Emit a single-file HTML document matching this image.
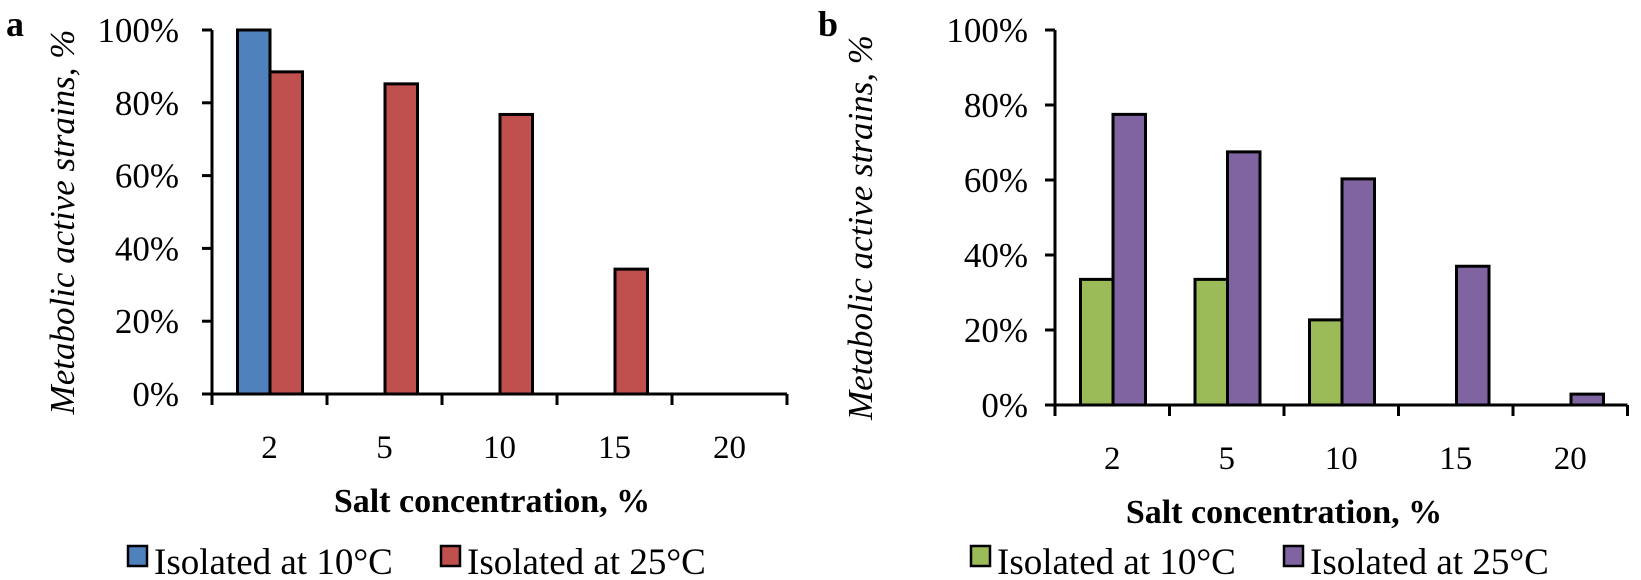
<!DOCTYPE html>
<html><head><meta charset="utf-8"><style>
html,body{margin:0;padding:0;background:#fff;}
svg{display:block;font-family:"Liberation Serif",serif;}
</style></head><body>
<svg id="fig" width="1641" height="580" viewBox="0 0 1641 580">
<g id="ga"></g>
<g id="gb"></g>
</svg>
<script>
const categories = ["2","5","10","15","20"];
const yTicks = [0,20,40,60,80,100];
const aSeries10 = [100,0,0,0,0];
const aSeries25 = [88.5,85.2,76.8,34.3,0];
const bSeries10 = [33.5,33.5,22.7,0,0];
const bSeries25 = [77.5,67.5,60.3,37.0,2.9];
const legendLabels = ["Isolated at 10°C","Isolated at 25°C"];

const NS="http://www.w3.org/2000/svg";
function mk(parent,tag,attrs,text){const e=document.createElementNS(NS,tag);for(const k in attrs)e.setAttribute(k,attrs[k]);if(text!==undefined)e.textContent=text;parent.appendChild(e);return e;}

function panel(g,cfg){
  const {x0,y0,y100,cw,letter,letterX,labelRight,titleX,xTitleX,xTitleY,xLabY,s1,s2,c1,c2,leg} = cfg;
  const yS=v=>y0-(v/100)*(y0-y100);
  const xS=i=>x0+i*cw;
  const bw=32.5, off=25.5;
  categories.forEach((c,i)=>{
    [[s1,c1,0,'bar-10c-'],[s2,c2,1,'bar-25c-']].forEach(([s,col,k,nm])=>{
      const v=s[i]; if(v<=0) return;
      const r=mk(g,'rect',{x:xS(i)+off+k*bw,y:yS(v),width:bw,height:y0-yS(v),fill:col,stroke:'#000','stroke-width':3});
      
      
    });
  });
  const ya=mk(g,'line',{x1:x0,y1:y100,x2:x0,y2:y0+11,stroke:'#000','stroke-width':3});
  
  
  const xa=mk(g,'line',{x1:x0-10,y1:y0,x2:xS(categories.length),y2:y0,stroke:'#000','stroke-width':3});
  
  
  yTicks.forEach(t=>{
    mk(g,'line',{x1:x0-10,y1:yS(t),x2:x0,y2:yS(t),stroke:'#000','stroke-width':3});
    const tl=mk(g,'text',{x:labelRight,y:yS(t)+12,'font-size':35,'text-anchor':'end',fill:'#000'},t+'%');
    
    
  });
  for(let i=1;i<=categories.length;i++) mk(g,'line',{x1:xS(i),y1:y0,x2:xS(i),y2:y0+11,stroke:'#000','stroke-width':3});
  categories.forEach((c,i)=>{
    const tl=mk(g,'text',{x:xS(i)+cw/2,y:xLabY,'font-size':33,'text-anchor':'middle',fill:'#000'},c);
    
    
  });
  const L=mk(g,'text',{x:letterX,y:36,'font-size':36,'font-weight':'bold',fill:'#000'},letter);
  
  
  const yc=(y0+y100)/2+10;
  const yt=mk(g,'text',{x:titleX,y:yc,'font-size':35,'font-style':'italic','text-anchor':'middle',fill:'#000',transform:`rotate(-90 ${titleX} ${yc})`},'Metabolic active strains, %');
  
  
  const xt=mk(g,'text',{x:xTitleX,y:xTitleY,'font-size':34,'font-weight':'bold','text-anchor':'middle',fill:'#000'},'Salt concentration, %');
  
  
  leg.forEach((lx,k)=>{
    const le=mk(g,'g',{});
    
    
    mk(le,'rect',{x:lx,y:546,width:19,height:20,fill:k?c2:c1,stroke:'#000','stroke-width':2.5});
    mk(le,'text',{x:lx+26,y:574,'font-size':37,fill:'#000'},legendLabels[k]);
  });
}
panel(document.getElementById('ga'),{x0:212,y0:394,y100:30,cw:115,letter:'a',letterX:6,labelRight:179,titleX:74,xTitleX:492,xTitleY:512,xLabY:458,s1:aSeries10,s2:aSeries25,c1:'#4f81bd',c2:'#c0504d',leg:[128,441]});
panel(document.getElementById('gb'),{x0:1055,y0:405,y100:30,cw:114.5,letter:'b',letterX:818,labelRight:1028,titleX:872,xTitleX:1284,xTitleY:523,xLabY:469,s1:bSeries10,s2:bSeries25,c1:'#9bbb59',c2:'#8064a2',leg:[971,1284]});
</script>
</body></html>
